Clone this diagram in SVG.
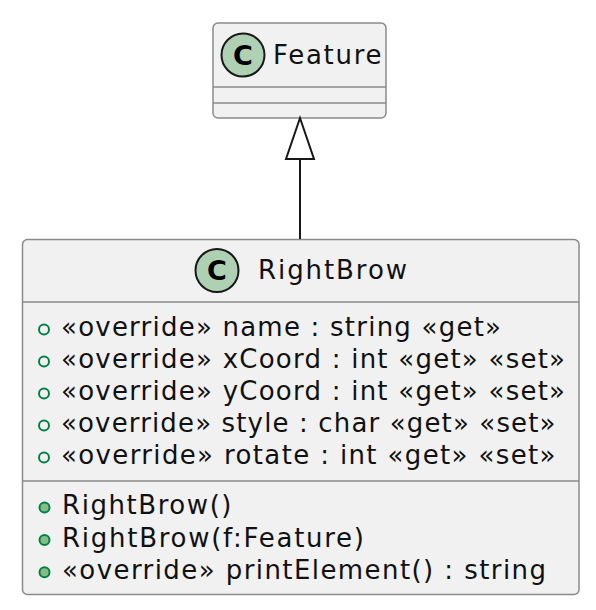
<svg xmlns="http://www.w3.org/2000/svg" width="596" height="610" viewBox="0 0 596 610">
<defs>
<style>
.box{fill:#F1F1F1;stroke:#8a8a8a;stroke-width:1.5}
.div{stroke:#8a8a8a;stroke-width:1.5}
.spot{fill:#ADD1B2;stroke:#181818;stroke-width:2}
.spotc{font-family:"DejaVu Sans",sans-serif;font-size:27px;font-weight:bold;fill:#000;text-anchor:middle}
.name{font-family:"DejaVu Sans",sans-serif;font-size:26px;fill:#111}
.mem{font-family:"DejaVu Sans",sans-serif;font-size:26px;fill:#111}
.fld{fill:none;stroke:#038048;stroke-width:2}
.mth{fill:#84BE84;stroke:#038048;stroke-width:2}
.edge{stroke:#181818;stroke-width:2;fill:none}
</style>
</defs>
<rect width="596" height="610" fill="#FFFFFF"/>
<g id="Feature">
<rect class="box" x="213" y="23" width="173" height="95" rx="5"/>
<circle class="spot" cx="243" cy="55" r="21.5"/>
<text class="spotc" x="243" y="64.5">C</text>
<text class="name" x="273" y="63.5" textLength="108.5" lengthAdjust="spacing">Feature</text>
<line class="div" x1="213" y1="87" x2="386" y2="87"/>
<line class="div" x1="213" y1="103" x2="386" y2="103"/>
</g>
<g id="RightBrow">
<rect class="box" x="22.5" y="239.5" width="556.5" height="355" rx="5"/>
<circle class="spot" cx="217" cy="270.5" r="21.5"/>
<text class="spotc" x="217" y="280">C</text>
<text class="name" x="258" y="279" textLength="149" lengthAdjust="spacing">RightBrow</text>
<line class="div" x1="22.5" y1="302" x2="579" y2="302"/>
<circle class="fld" cx="44" cy="329.5" r="5"/>
<text class="mem" x="61" y="336" textLength="440" lengthAdjust="spacing">«override» name : string «get»</text>
<circle class="fld" cx="44" cy="361.5" r="5"/>
<text class="mem" x="61" y="368" textLength="504" lengthAdjust="spacing">«override» xCoord : int «get» «set»</text>
<circle class="fld" cx="44" cy="393.5" r="5"/>
<text class="mem" x="61" y="400" textLength="504" lengthAdjust="spacing">«override» yCoord : int «get» «set»</text>
<circle class="fld" cx="44" cy="425.5" r="5"/>
<text class="mem" x="61" y="432" textLength="494.5" lengthAdjust="spacing">«override» style : char «get» «set»</text>
<circle class="fld" cx="44" cy="457.5" r="5"/>
<text class="mem" x="61" y="464" textLength="494.5" lengthAdjust="spacing">«override» rotate : int «get» «set»</text>
<line class="div" x1="22.5" y1="481" x2="579" y2="481"/>
<circle class="mth" cx="44.5" cy="507.5" r="5"/>
<text class="mem" x="62" y="514.3" textLength="169.5" lengthAdjust="spacing">RightBrow()</text>
<circle class="mth" cx="44.5" cy="540" r="5"/>
<text class="mem" x="62" y="546.6" textLength="302" lengthAdjust="spacing">RightBrow(f:Feature)</text>
<circle class="mth" cx="44.5" cy="572.3" r="5"/>
<text class="mem" x="62" y="579" textLength="484" lengthAdjust="spacing">«override» printElement() : string</text>
</g>
<g id="connectors">
<line class="edge" x1="300" y1="239" x2="300" y2="159"/>
<polygon class="edge" points="300,118 286,159 314,159"/>
</g>
</svg>
